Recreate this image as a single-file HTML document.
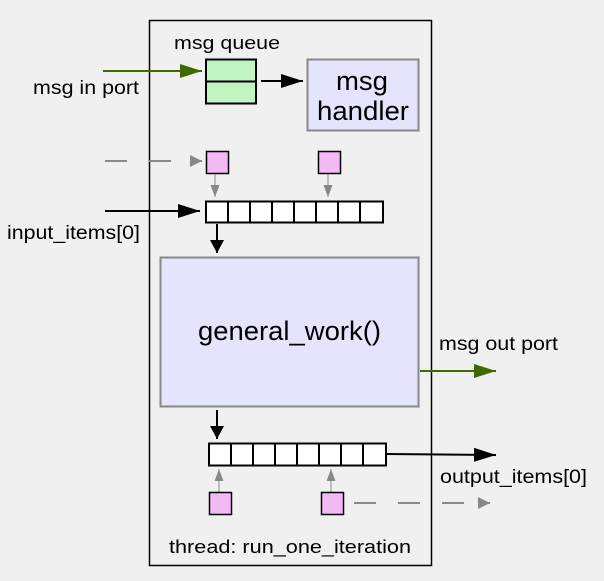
<!DOCTYPE html>
<html><head><style>html,body{margin:0;padding:0;background:#f0f0f0}</style></head><body>
<svg width="604" height="576" viewBox="0 0 604 576" xmlns="http://www.w3.org/2000/svg" font-family="Liberation Sans, sans-serif">
<defs>
<marker id="ab2" markerWidth="22" markerHeight="14" refX="22" refY="7" orient="auto" markerUnits="userSpaceOnUse"><path d="M0,0L22,7L0,14z" fill="#000"/></marker>
<marker id="abs" markerWidth="13" markerHeight="14" refX="13" refY="7" orient="auto" markerUnits="userSpaceOnUse"><path d="M0,0L13,7L0,14z" fill="#000"/></marker>
<marker id="ag" markerWidth="22" markerHeight="14" refX="22" refY="7" orient="auto" markerUnits="userSpaceOnUse"><path d="M0,0L22,7L0,14z" fill="#3f6a00"/></marker>
<marker id="agr" markerWidth="12" markerHeight="12" refX="12" refY="6" orient="auto" markerUnits="userSpaceOnUse"><path d="M0,0L12,6L0,12z" fill="#888"/></marker>
<marker id="agrs" markerWidth="12" markerHeight="9" refX="12" refY="4.5" orient="auto" markerUnits="userSpaceOnUse"><path d="M0,0L12,4.5L0,9z" fill="#888"/></marker>
</defs>
<rect width="604" height="576" fill="#f0f0f0"/>
<rect x="149.5" y="20.5" width="282" height="545" fill="none" stroke="#000" stroke-width="1.5"/>
<text x="174" y="49" font-size="18" textLength="106" lengthAdjust="spacingAndGlyphs">msg queue</text>
<text x="33" y="94" font-size="19" textLength="106" lengthAdjust="spacingAndGlyphs">msg in port</text>
<line x1="103" y1="71" x2="202" y2="71" stroke="#3f6a00" stroke-width="2" marker-end="url(#ag)"/>
<rect x="206" y="59.5" width="50" height="44" fill="#c0f4c0" stroke="#000" stroke-width="2"/>
<line x1="206" y1="81.5" x2="256" y2="81.5" stroke="#000" stroke-width="2"/>
<line x1="261" y1="81" x2="303" y2="81" stroke="#000" stroke-width="2" marker-end="url(#ab2)"/>
<rect x="307.5" y="59.5" width="111" height="71" fill="#e4e4fc" stroke="#888" stroke-width="2"/>
<text x="336" y="90" font-size="27" textLength="52" lengthAdjust="spacingAndGlyphs">msg</text>
<text x="317" y="120" font-size="27" textLength="92" lengthAdjust="spacingAndGlyphs">handler</text>
<line x1="105" y1="161" x2="202" y2="161" stroke="#888" stroke-width="2" stroke-dasharray="22,22" marker-end="url(#agr)"/>
<rect x="206.5" y="151.5" width="22" height="22" fill="#f4b8f4" stroke="#000" stroke-width="1.5"/>
<rect x="318.5" y="151.5" width="22" height="22" fill="#f4b8f4" stroke="#000" stroke-width="1.5"/>
<line x1="215" y1="174" x2="215" y2="197" stroke="#888" stroke-width="1" marker-end="url(#agrs)"/>
<line x1="328" y1="174" x2="328" y2="197" stroke="#888" stroke-width="1" marker-end="url(#agrs)"/>
<line x1="105" y1="211" x2="200" y2="211" stroke="#000" stroke-width="2" marker-end="url(#ab2)"/>
<text x="7" y="239" font-size="19" textLength="133" lengthAdjust="spacingAndGlyphs">input_items[0]</text>
<g fill="#fff" stroke="#000" stroke-width="2">
<rect x="206" y="201.5" width="22" height="21"/><rect x="228" y="201.5" width="22" height="21"/><rect x="250" y="201.5" width="22" height="21"/><rect x="272" y="201.5" width="22" height="21"/><rect x="294" y="201.5" width="22" height="21"/><rect x="316" y="201.5" width="22" height="21"/><rect x="338" y="201.5" width="22" height="21"/><rect x="360" y="201.5" width="23" height="21"/>
</g>
<line x1="217" y1="224" x2="217" y2="253" stroke="#000" stroke-width="2" marker-end="url(#abs)"/>
<rect x="160.5" y="257.5" width="258" height="149" fill="#e4e4fc" stroke="#888" stroke-width="2"/>
<text x="198" y="340" font-size="27" textLength="183" lengthAdjust="spacingAndGlyphs">general_work()</text>
<text x="439" y="350" font-size="19" textLength="119" lengthAdjust="spacingAndGlyphs">msg out port</text>
<line x1="420" y1="371" x2="496" y2="371" stroke="#3f6a00" stroke-width="2" marker-end="url(#ag)"/>
<line x1="217" y1="410" x2="217" y2="439" stroke="#000" stroke-width="2" marker-end="url(#abs)"/>
<line x1="386" y1="454" x2="496" y2="455" stroke="#000" stroke-width="2" marker-end="url(#ab2)"/>
<g fill="#fff" stroke="#000" stroke-width="2">
<rect x="209" y="443.5" width="22" height="22"/><rect x="231" y="443.5" width="22" height="22"/><rect x="253" y="443.5" width="22" height="22"/><rect x="275" y="443.5" width="22" height="22"/><rect x="297" y="443.5" width="22" height="22"/><rect x="319" y="443.5" width="22" height="22"/><rect x="341" y="443.5" width="22" height="22"/><rect x="363" y="443.5" width="23" height="22"/>
</g>
<text x="440" y="483" font-size="19" textLength="147" lengthAdjust="spacingAndGlyphs">output_items[0]</text>
<line x1="219" y1="492" x2="219" y2="469" stroke="#888" stroke-width="1" marker-end="url(#agrs)"/>
<line x1="331" y1="492" x2="331" y2="469" stroke="#888" stroke-width="1" marker-end="url(#agrs)"/>
<rect x="209.5" y="492.5" width="22" height="22" fill="#f4b8f4" stroke="#000" stroke-width="1.5"/>
<rect x="321.5" y="492.5" width="22" height="22" fill="#f4b8f4" stroke="#000" stroke-width="1.5"/>
<line x1="354" y1="503" x2="490" y2="503" stroke="#888" stroke-width="2" stroke-dasharray="22,22" marker-end="url(#agr)"/>
<text x="169" y="553" font-size="18" textLength="242" lengthAdjust="spacingAndGlyphs">thread: run_one_iteration</text>
</svg>
</body></html>
